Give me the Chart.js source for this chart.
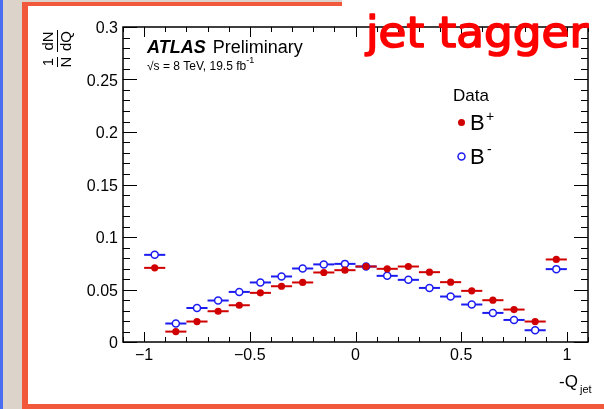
<!DOCTYPE html>
<html>
<head>
<meta charset="utf-8">
<script src="https://cdn.jsdelivr.net/npm/chart.js@4"></script>
<style>
  html, body { margin: 0; padding: 0; background: #fff; }
  canvas { display: block; }
</style>
</head>
<body>
<canvas id="qjet" width="604" height="409"></canvas>
<script>
// bin centres of -Q_jet, bins are 0.1 wide
const binCenters = [-0.95, -0.85, -0.75, -0.65, -0.55, -0.45, -0.35, -0.25, -0.15, -0.05,
                    0.05, 0.15, 0.25, 0.35, 0.45, 0.55, 0.65, 0.75, 0.85, 0.95];
const binHalfWidth = 0.05;

// 1/N dN/dQ
const bPlus  = [0.0706, 0.0099, 0.0195, 0.0293, 0.0350, 0.0468, 0.0531, 0.0567, 0.0662, 0.0684,
                0.0719, 0.0697, 0.0719, 0.0665, 0.0570, 0.0487, 0.0398, 0.0309, 0.0195, 0.0786];
const bMinus = [0.0830, 0.0176, 0.0324, 0.0395, 0.0477, 0.0567, 0.0624, 0.0700, 0.0739, 0.0744,
                0.0719, 0.0630, 0.0592, 0.0515, 0.0433, 0.0357, 0.0277, 0.0210, 0.0112, 0.0694];

const xTickValues = [-1, -0.5, 0, 0.5, 1];
const xTickLabels = ['\u22121', '\u22120.5', '0', '0.5', '1'];
const yTickValues = [0, 0.05, 0.1, 0.15, 0.2, 0.25, 0.3];
const yTickLabels = ['0', '0.05', '0.1', '0.15', '0.2', '0.25', '0.3'];

const RED = '#d00000';
const BLUE = '#1c1cf0';
const FONT = '"Liberation Sans", Arial, Helvetica, sans-serif';

const rootStyle = {
  id: 'rootStyle',
  beforeDraw(chart) {
    const ctx = chart.ctx;
    const W = chart.width, H = chart.height;
    ctx.save();
    ctx.fillStyle = '#fff';
    ctx.fillRect(0, 0, W, H);
    // slide background strip on the left
    ctx.fillStyle = '#dcd3ca';
    ctx.fillRect(0, 0, 23, H);
    ctx.fillRect(0, 0, 342, 2);
    ctx.fillStyle = '#4b6ef0';
    ctx.fillRect(0, 0, 3, H);
    // orange frame
    ctx.fillStyle = '#f2583b';
    ctx.fillRect(22, 2, 6, 403);
    ctx.fillRect(22, 2, 320, 4);
    ctx.fillRect(22, 404, W - 22, 5);
    ctx.restore();
  },
  beforeDatasetsDraw(chart) {
    const ctx = chart.ctx;
    const xs = chart.scales.x, ys = chart.scales.y;
    ctx.save();
    ctx.lineWidth = 2;
    [[bMinus, BLUE], [bPlus, RED]].forEach(([vals, col]) => {
      ctx.strokeStyle = col;
      vals.forEach((v, i) => {
        const y = ys.getPixelForValue(v);
        ctx.beginPath();
        ctx.moveTo(xs.getPixelForValue(binCenters[i] - binHalfWidth), y);
        ctx.lineTo(xs.getPixelForValue(binCenters[i] + binHalfWidth), y);
        ctx.stroke();
      });
    });
    ctx.restore();
  },
  afterDraw(chart) {
    const ctx = chart.ctx;
    const a = chart.chartArea;
    const xs = chart.scales.x, ys = chart.scales.y;
    ctx.save();

    // axis box
    ctx.strokeStyle = '#000';
    ctx.lineWidth = 1.5;
    ctx.strokeRect(a.left, a.top, a.right - a.left, a.bottom - a.top);

    // ticks, drawn inward on all four sides
    ctx.lineWidth = 1;
    ctx.beginPath();
    for (let i = -11; i <= 11; i++) {
      const v = i / 10;
      const px = Math.round(xs.getPixelForValue(v)) + 0.5;
      const len = (i % 5 === 0) ? 10 : 5;
      ctx.moveTo(px, a.bottom); ctx.lineTo(px, a.bottom - len);
      ctx.moveTo(px, a.top); ctx.lineTo(px, a.top + len);
    }
    for (let i = 0; i <= 30; i++) {
      const v = i / 100;
      const py = Math.round(ys.getPixelForValue(v)) + 0.5;
      const len = (i % 5 === 0) ? 14 : 7;
      ctx.moveTo(a.left, py); ctx.lineTo(a.left + len, py);
      ctx.moveTo(a.right, py); ctx.lineTo(a.right - len, py);
    }
    ctx.stroke();

    // tick labels
    ctx.fillStyle = '#000';
    ctx.font = '16px ' + FONT;
    ctx.textAlign = 'center';
    ctx.textBaseline = 'alphabetic';
    xTickValues.forEach((v, i) => {
      ctx.fillText(xTickLabels[i], xs.getPixelForValue(v), a.bottom + 18);
    });
    ctx.textAlign = 'right';
    yTickValues.forEach((v, i) => {
      ctx.fillText(yTickLabels[i], a.left - 5, ys.getPixelForValue(v) + 6);
    });

    // x axis title  -Q_jet
    ctx.textAlign = 'left';
    ctx.font = '17px ' + FONT;
    ctx.fillText('-Q', 559, 387);
    ctx.font = '11px ' + FONT;
    ctx.fillText('jet', 580, 393);

    // y axis title  1/N dN/dQ, rotated (reads bottom to top)
    ctx.save();
    ctx.translate(57, 47);
    ctx.rotate(-Math.PI / 2);
    ctx.font = '15px ' + FONT;
    ctx.textAlign = 'center';
    ctx.fillText('1', -15, -4);
    ctx.fillText('N', -15, 14);
    ctx.fillText('dN', 6, -4);
    ctx.fillText('dQ', 6, 14);
    ctx.lineWidth = 1;
    ctx.beginPath();
    ctx.moveTo(-20, 0.5); ctx.lineTo(-10, 0.5);
    ctx.moveTo(-5, 0.5); ctx.lineTo(17, 0.5);
    ctx.stroke();
    ctx.restore();

    // ATLAS label
    ctx.textAlign = 'left';
    ctx.font = 'italic bold 18px ' + FONT;
    ctx.fillText('ATLAS', 147, 53);
    const wA = ctx.measureText('ATLAS ').width;
    ctx.font = '18px ' + FONT;
    ctx.fillText('Preliminary', 147 + wA + 2, 53);
    ctx.font = '12px ' + FONT;
    ctx.fillText('\u221As = 8 TeV, 19.5 fb', 147, 69.5);
    const wL = ctx.measureText('\u221As = 8 TeV, 19.5 fb').width;
    ctx.font = '9px ' + FONT;
    ctx.fillText('-1', 147 + wL, 63);

    // legend
    ctx.font = '17px ' + FONT;
    ctx.fillText('Data', 453, 101);
    ctx.font = '22px ' + FONT;
    ctx.fillText('B', 470, 130);
    ctx.fillText('B', 470, 164);
    ctx.font = '14px ' + FONT;
    ctx.fillText('+', 486, 121);
    ctx.fillText('-', 487, 154);
    ctx.fillStyle = RED;
    ctx.beginPath();
    ctx.arc(461.5, 122.5, 3.5, 0, Math.PI * 2);
    ctx.fill();
    ctx.strokeStyle = BLUE;
    ctx.lineWidth = 1.5;
    ctx.fillStyle = '#fff';
    ctx.beginPath();
    ctx.arc(461.5, 156.5, 3.5, 0, Math.PI * 2);
    ctx.fill();
    ctx.stroke();

    // slide title
    ctx.fillStyle = '#fff';
    ctx.fillRect(342, 0, 262, 8);
    ctx.fillStyle = '#ff0000';
    ctx.strokeStyle = '#ff0000';
    ctx.lineWidth = 1.6;
    ctx.lineJoin = 'round';
    ctx.font = '400 42px "Comic Sans MS", "DejaVu Sans", sans-serif';
    const title = 'jet tagger';
    const tw = ctx.measureText(title).width;
    ctx.translate(366, 47);
    ctx.scale(222 / tw, 1);
    ctx.fillText(title, 0, 0);
    ctx.strokeText(title, 0, 0);

    ctx.restore();
  }
};

new Chart('qjet', {
  type: 'scatter',
  data: {
    datasets: [{
      label: 'B+',
      data: binCenters.map((x, i) => ({ x: x, y: bPlus[i] })),
      pointRadius: 3.6,
      pointBackgroundColor: RED,
      pointBorderColor: RED,
      pointBorderWidth: 0
    }, {
      label: 'B-',
      data: binCenters.map((x, i) => ({ x: x, y: bMinus[i] })),
      pointRadius: 3.5,
      pointBackgroundColor: '#fff',
      pointBorderColor: BLUE,
      pointBorderWidth: 1.5
    }]
  },
  options: {
    responsive: false,
    animation: false,
    layout: { padding: { left: 123, right: 16, top: 27, bottom: 67 } },
    plugins: {
      legend: { display: false },
      tooltip: { enabled: false }
    },
    scales: {
      x: { type: 'linear', min: -1.1, max: 1.1, display: false },
      y: { type: 'linear', min: 0, max: 0.3, display: false }
    }
  },
  plugins: [rootStyle]
});
</script>
</body>
</html>
